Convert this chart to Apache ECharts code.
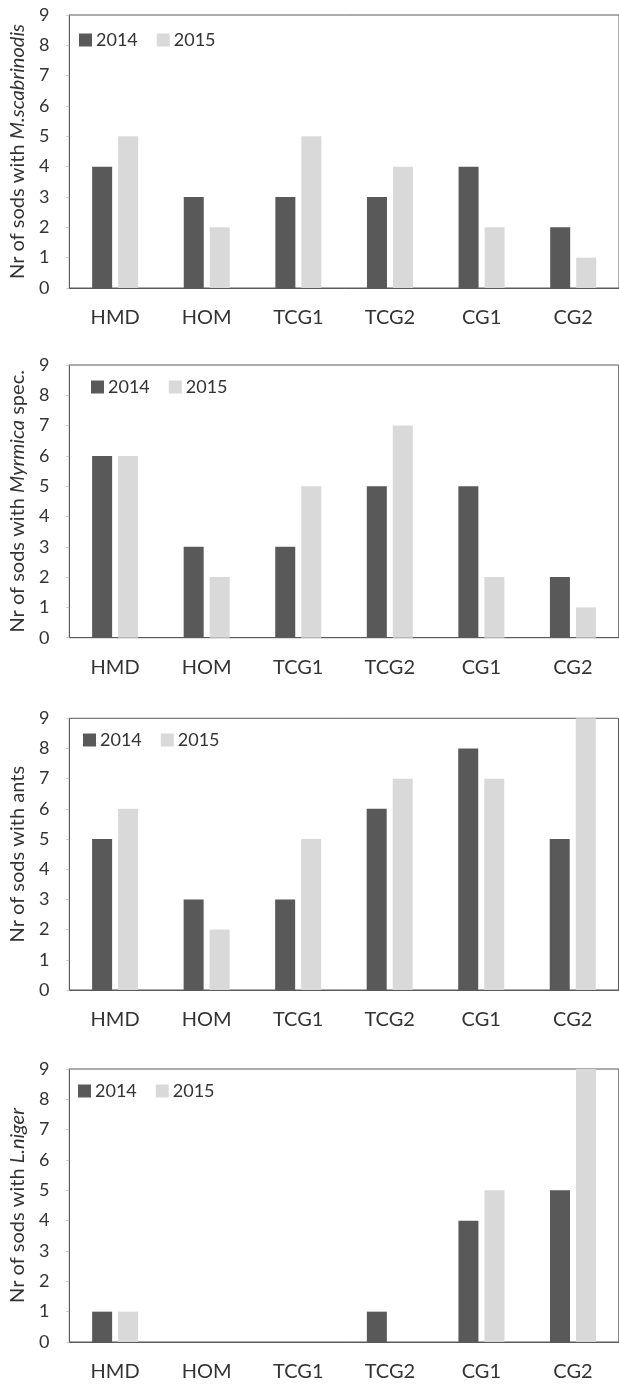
<!DOCTYPE html>
<html><head><meta charset="utf-8">
<script src="https://cdn.jsdelivr.net/npm/echarts@6/dist/echarts.min.js"></script>
<style>html,body{margin:0;padding:0;background:#fff}#c{width:619px;height:1384px}</style>
</head><body><div id="c"></div>
<script>
const categories = ['HMD','HOM','TCG1','TCG2','CG1','CG2'];
const yTicks = [0,1,2,3,4,5,6,7,8,9];
const seriesNames = ['2014','2015'];
const mScab2014 = [4,3,3,3,4,2];
const mScab2015 = [5,2,5,4,2,1];
const myrm2014 = [6,3,3,5,5,2];
const myrm2015 = [6,2,5,7,2,1];
const ants2014 = [5,3,3,6,8,5];
const ants2015 = [6,2,5,7,7,9];
const lnig2014 = [1,0,0,1,4,5];
const lnig2015 = [1,0,0,0,5,9];
const axisNames = [
  '{n|Nr of sods with }{i|M.scabrinodis}',
  '{n|Nr of sods with }{i|Myrmica}{n| spec.}',
  '{n|Nr of sods with ants}',
  '{n|Nr of sods with }{i|L.niger}'
];
const panels = [[mScab2014,mScab2015],[myrm2014,myrm2015],[ants2014,ants2015],[lnig2014,lnig2015]];

const FONT = 'Lato';
const TXT = '#333333';
const grids = [
  {left:68.5, top:15, width:551, height:273},
  {left:67.7, top:365, width:551, height:272.7},
  {left:67.5, top:718.3, width:551, height:271.7},
  {left:64.8, top:1069, width:554, height:273}
];
const legendPos = [
  {left:79, top:31},
  {left:91, top:378},
  {left:83, top:731},
  {left:78, top:1082}
];
const colors = ['#595959','#d9d9d9'];

const option = {
  animation:false,
  backgroundColor:'#fff',
  textStyle:{fontFamily:FONT},
  grid: grids.map(g=>Object.assign({show:true, borderColor:'#5a5a5a', borderWidth:1, backgroundColor:'transparent'}, g)),
  legend: legendPos.map(p=>({
    left:p.left, top:p.top, orient:'horizontal', data:seriesNames, padding:0,
    itemWidth:13, itemHeight:13, itemGap:19, selectedMode:false,
    icon:'rect',
    textStyle:{fontFamily:FONT, fontSize:18, color:TXT, padding:[0,0,0,-1]}
  })),
  xAxis: grids.map((g,i)=>({
    type:'category', gridIndex:i, data:categories,
    axisLine:{show:true, lineStyle:{color:'#5a5a5a'}},
    axisTick:{show:false},
    axisLabel:{fontFamily:FONT, fontSize:20, color:TXT, margin:20}
  })),
  yAxis: grids.map((g,i)=>({
    type:'value', gridIndex:i, min:yTicks[0], max:yTicks[yTicks.length-1], interval:1,
    splitLine:{show:false},
    axisLine:{show:true, lineStyle:{color:'#5a5a5a'}},
    axisTick:{show:true, length:3, inside:false, lineStyle:{color:'#c8c8c8'}},
    axisLabel:{fontFamily:FONT, fontSize:18, color:TXT, margin:20},
    name:axisNames[i], nameLocation:'middle', nameGap:33, nameRotate:90,
    nameTextStyle:{fontFamily:FONT, fontSize:20, color:TXT,
      rich:{n:{fontFamily:FONT, fontSize:20, color:TXT}, i:{fontFamily:FONT, fontSize:20, color:TXT, fontStyle:'italic'}}}
  })),
  series: []
};
panels.forEach((p,i)=>{
  p.forEach((vals,j)=>{
    option.series.push({
      type:'bar', name:seriesNames[j], xAxisIndex:i, yAxisIndex:i, data:vals,
      barWidth:20, barGap:'30%', itemStyle:{color:colors[j]}
    });
  });
});
const chart = echarts.init(document.getElementById('c'), null, {renderer:'canvas'});
chart.setOption(option);
</script></body></html>
